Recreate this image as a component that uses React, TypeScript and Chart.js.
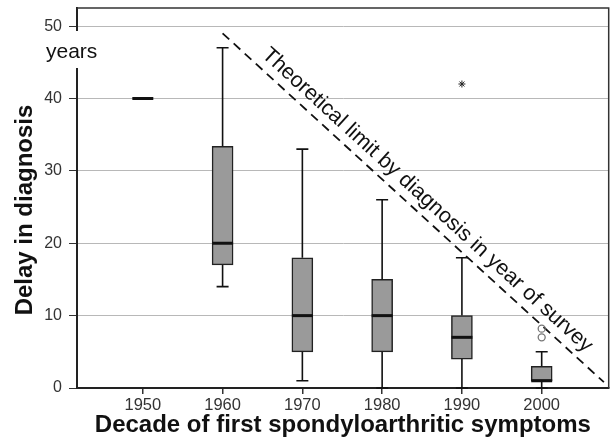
import { useEffect, useRef } from 'react';
import { Chart, registerables } from 'chart.js';

Chart.register(...registerables);

const decades = [1950, 1960, 1970, 1980, 1990, 2000];
const whiskerLow = [40, 14, 1, 0, 0, 0];
const q1 = [40, 17, 5, 5, 4, 1];
const median = [40, 20, 10, 10, 7, 1];
const q3 = [40, 33.4, 18, 15, 10, 3];
const whiskerHigh = [40, 47, 33, 26, 18, 5];
const starOutliers = [{ x: 1990, y: 42 }];
const circleOutliers = [{ x: 2000, y: 7 }, { x: 2000, y: 8.2 }];
const limitLine = [{ x: 1960, y: 49 }, { x: 2007.8, y: 0.8 }];
const yTicks = [0, 10, 20, 30, 40, 50];
const limitLabel = 'Theoretical limit by diagnosis in year of survey';
const unitLabel = 'years';
const xTitle = 'Decade of first spondyloarthritic symptoms';
const yTitle = 'Delay in diagnosis';

const FONT = "'Liberation Sans', Arial, sans-serif";

const boxPlugin = {
  id: 'boxExtras',
  afterDatasetsDraw(chart: any) {
    const { ctx, scales } = chart;
    const x = scales.x, y = scales.y;
    ctx.save();
    ctx.strokeStyle = '#111';
    ctx.lineCap = 'butt';
    const capHalf = 6;
    const boxHalf = 10.5;
    decades.forEach((d, i) => {
      const px = x.getPixelForValue(d);
      ctx.lineWidth = 1.6;
      if (whiskerHigh[i] > q3[i]) {
        ctx.beginPath();
        ctx.moveTo(px, y.getPixelForValue(q3[i]));
        ctx.lineTo(px, y.getPixelForValue(whiskerHigh[i]));
        ctx.moveTo(px - capHalf, y.getPixelForValue(whiskerHigh[i]));
        ctx.lineTo(px + capHalf, y.getPixelForValue(whiskerHigh[i]));
        ctx.stroke();
      }
      if (whiskerLow[i] < q1[i]) {
        ctx.beginPath();
        ctx.moveTo(px, y.getPixelForValue(q1[i]));
        ctx.lineTo(px, y.getPixelForValue(whiskerLow[i]));
        ctx.moveTo(px - capHalf, y.getPixelForValue(whiskerLow[i]));
        ctx.lineTo(px + capHalf, y.getPixelForValue(whiskerLow[i]));
        ctx.stroke();
      }
      ctx.lineWidth = 3;
      ctx.beginPath();
      const my = y.getPixelForValue(median[i]);
      ctx.moveTo(px - boxHalf, my);
      ctx.lineTo(px + boxHalf, my);
      ctx.stroke();
    });
    ctx.restore();
  },
  afterDraw(chart: any) {
    const { ctx, scales, chartArea } = chart;
    const x = scales.x, y = scales.y;
    ctx.save();
    ctx.strokeStyle = '#333';
    ctx.lineWidth = 1.5;
    ctx.beginPath();
    ctx.moveTo(chartArea.left, chartArea.top);
    ctx.lineTo(chartArea.right, chartArea.top);
    ctx.lineTo(chartArea.right, chartArea.bottom);
    ctx.stroke();
    const p0 = { x: x.getPixelForValue(limitLine[0].x), y: y.getPixelForValue(limitLine[0].y) };
    const p1 = { x: x.getPixelForValue(limitLine[1].x), y: y.getPixelForValue(limitLine[1].y) };
    const dx = p1.x - p0.x, dy = p1.y - p0.y;
    const len = Math.hypot(dx, dy);
    const ux = dx / len, uy = dy / len;
    const nx = uy, ny = -ux;
    const t = 0.51;
    const off = 15;
    const cx = p0.x + dx * t + nx * off;
    const cy = p0.y + dy * t + ny * off;
    ctx.translate(cx, cy);
    ctx.rotate(Math.atan2(dy, dx));
    ctx.fillStyle = '#111';
    ctx.font = `21.5px ${FONT}`;
    ctx.textAlign = 'center';
    ctx.textBaseline = 'middle';
    ctx.fillText(limitLabel, 0, 0);
    ctx.restore();
    // unit label
    ctx.save();
    ctx.fillStyle = '#fff';
    ctx.fillRect(42, 31, 60, 37);
    ctx.fillStyle = '#111';
    ctx.font = `21px ${FONT}`;
    ctx.textAlign = 'left';
    ctx.textBaseline = 'alphabetic';
    ctx.fillText(unitLabel, 46, 58);
    ctx.restore();
    // y axis title
    ctx.save();
    ctx.translate(32, 210);
    ctx.rotate(-Math.PI / 2);
    ctx.fillStyle = '#111';
    ctx.font = `bold 24px ${FONT}`;
    ctx.textAlign = 'center';
    ctx.textBaseline = 'alphabetic';
    ctx.fillText(yTitle, 0, 0);
    ctx.restore();
  },
};

export default function App() {
  const ref = useRef<HTMLCanvasElement | null>(null);
  useEffect(() => {
    if (!ref.current) return;
    const chart = new Chart(ref.current, {
      type: 'bar',
      data: {
        datasets: [
          {
            type: 'bar',
            data: decades.map((d, i) => ({ x: d, y: [q1[i], q3[i]] })) as any,
            backgroundColor: '#9a9a9a',
            borderColor: '#222',
            borderWidth: 1.5,
            borderSkipped: false,
            barThickness: 21,
            order: 2,
          } as any,
          {
            type: 'line',
            data: limitLine as any,
            borderColor: '#111',
            borderWidth: 1.8,
            borderDash: [9, 6],
            pointRadius: 0,
            fill: false,
            order: 1,
          } as any,
          {
            type: 'scatter',
            data: starOutliers as any,
            pointStyle: 'star',
            pointRadius: 3.5,
            borderColor: '#222',
            borderWidth: 1,
            order: 0,
          } as any,
          {
            type: 'scatter',
            data: circleOutliers as any,
            pointStyle: 'circle',
            pointRadius: 3.5,
            borderColor: '#777',
            backgroundColor: 'rgba(0,0,0,0)',
            borderWidth: 1.3,
            order: 0,
          } as any,
        ],
      },
      options: {
        responsive: false,
        animation: false,
        layout: { padding: { top: 8, right: 4, left: 0, bottom: 0 } },
        plugins: { legend: { display: false }, tooltip: { enabled: false } },
        scales: {
          x: {
            type: 'linear',
            offset: false,
            min: 1941.75,
            max: 2008.4,
            afterBuildTicks: (s: any) => { s.ticks = decades.map((v) => ({ value: v })); },
            afterFit: (s: any) => { s.height = 51; s.paddingLeft = 0; s.paddingRight = 0; },
            grid: {
              display: true,
              drawOnChartArea: false,
              drawTicks: true,
              tickLength: 6,
              tickColor: '#333',
              color: '#333',
              offset: false,
              lineWidth: 1.5,
            },
            border: { display: true, color: '#222', width: 2 },
            ticks: {
              color: '#333',
              font: { family: FONT, size: 16.5 },
              padding: 2,
              maxRotation: 0,
              callback: (v: any) => String(v),
            },
            title: {
              display: true,
              text: xTitle,
              color: '#111',
              font: { family: FONT, size: 24, weight: 'bold', lineHeight: 1.1 },
              padding: { top: 0, bottom: 0 },
            },
          },
          y: {
            min: 0,
            max: 52.5,
            afterBuildTicks: (s: any) => { s.ticks = yTicks.map((v) => ({ value: v })); },
            afterFit: (s: any) => { s.width = 77; s.paddingTop = 0; s.paddingBottom = 0; },
            grid: { color: '#b8b8b8', tickColor: '#333', tickLength: 8, lineWidth: 1 },
            border: { display: true, color: '#222', width: 2 },
            ticks: {
              color: '#333',
              font: { family: FONT, size: 16 },
              padding: 7,
              callback: (v: any) => String(v),
            },
            title: { display: false, text: yTitle },
          },
        },
      },
      plugins: [boxPlugin],
    } as any);
    return () => chart.destroy();
  }, []);
  return (
    <div style={{ position: 'absolute', left: 0, top: 0, width: 614, height: 439, background: '#fff' }}>
      <canvas ref={ref} width={614} height={439} />
    </div>
  );
}
